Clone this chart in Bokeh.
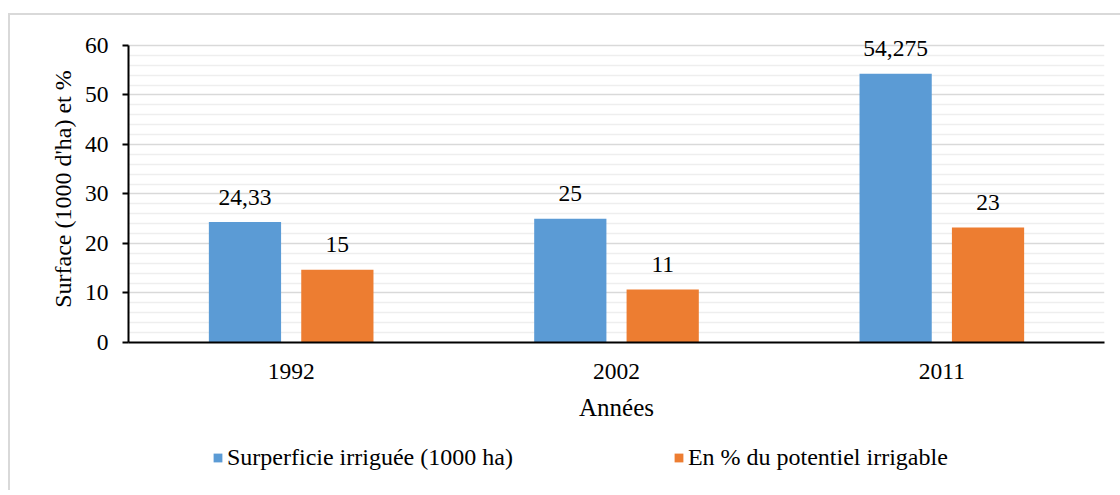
from bokeh.plotting import figure
from bokeh.models import ColumnDataSource, Legend, LegendItem, FactorRange, FixedTicker
from bokeh.layouts import column
from bokeh.transform import dodge
from bokeh.core.properties import value
from bokeh.embed import file_html
from bokeh.resources import INLINE

years = ["1992", "2002", "2011"]
surface = [24.33, 25.0, 54.275]
surface_labels = ["24,33", "25", "54,275"]
percent = [14.7, 10.7, 23.2]
percent_labels = ["15", "11", "23"]
series_names = ["Surperficie irriguée (1000 ha)", "En % du potentiel irrigable"]
y_ticks = [0, 10, 20, 30, 40, 50, 60]
y_minor = [v for v in range(0, 61, 2) if v % 10 != 0]

FONT = "'Liberation Serif', 'Times New Roman', serif"
BLUE = "#5b9bd5"
ORANGE = "#ed7d31"

src = ColumnDataSource(dict(year=years, surface=surface, surface_label=surface_labels,
                            percent=percent, percent_label=percent_labels))

p = figure(x_range=FactorRange(*years), y_range=(0, 62), width=1110, height=415,
           output_backend="svg", toolbar_location=None,
           min_border_left=118, min_border_right=16, min_border_top=20, min_border_bottom=88)
p.outline_line_color = None
p.background_fill_color = "white"
p.border_fill_color = "white"
p.x_range.range_padding = 0

ticker = FixedTicker(ticks=y_ticks, minor_ticks=y_minor)

# grid
p.xgrid.grid_line_color = None
p.ygrid.ticker = ticker
p.ygrid.grid_line_color = "#d9d9d9"
p.ygrid.grid_line_width = 1.5
p.ygrid.minor_grid_line_color = "#eeeeee"
p.ygrid.minor_grid_line_width = 1.5

w = 0.222
off = 0.142
p.vbar(x=dodge("year", -off, range=p.x_range), top="surface", width=w, source=src,
       fill_color=BLUE, line_color=None)
p.vbar(x=dodge("year", off, range=p.x_range), top="percent", width=w, source=src,
       fill_color=ORANGE, line_color=None)

p.text(x=dodge("year", -off, range=p.x_range), y="surface", text="surface_label", source=src,
       text_font=value(FONT), text_font_size="23.5px", text_color="#000000",
       text_align="center", text_baseline="alphabetic", y_offset=-25)
p.text(x=dodge("year", off, range=p.x_range), y="percent", text="percent_label", source=src,
       text_font=value(FONT), text_font_size="23.5px", text_color="#000000",
       text_align="center", text_baseline="alphabetic", y_offset=-25)

# axes
p.yaxis.ticker = ticker
p.yaxis.bounds = (0, 60)
p.yaxis.axis_line_color = "black"
p.yaxis.axis_line_width = 2
p.yaxis.major_tick_line_color = "black"
p.yaxis.major_tick_line_width = 2
p.yaxis.major_tick_out = 6
p.yaxis.major_tick_in = 0
p.yaxis.minor_tick_line_color = None
p.yaxis.major_label_standoff = 14
p.yaxis.major_label_text_font = FONT
p.yaxis.major_label_text_font_size = "23.5px"
p.yaxis.major_label_text_color = "#000000"
p.yaxis.axis_label = "Surface (1000 d'ha) et %"
p.yaxis.axis_label_text_font = FONT
p.yaxis.axis_label_text_font_size = "24px"
p.yaxis.axis_label_text_font_style = "normal"
p.yaxis.axis_label_text_color = "#000000"
p.yaxis.axis_label_standoff = 6

p.xaxis.axis_line_color = "black"
p.xaxis.axis_line_width = 2
p.xaxis.major_tick_line_color = None
p.xaxis.minor_tick_line_color = None
p.xaxis.major_label_standoff = 15
p.xaxis.major_label_text_font = FONT
p.xaxis.major_label_text_font_size = "23.5px"
p.xaxis.major_label_text_color = "#000000"
p.xaxis.axis_label = "Années"
p.xaxis.axis_label_text_font = FONT
p.xaxis.axis_label_text_font_size = "25px"
p.xaxis.axis_label_text_font_style = "normal"
p.xaxis.axis_label_text_color = "#000000"
p.xaxis.axis_label_standoff = 12

# legend strip
p2 = figure(width=1110, height=60, x_range=(0, 1), y_range=(0, 1),
            output_backend="svg", toolbar_location=None,
            x_axis_type=None, y_axis_type=None,
            min_border_left=0, min_border_right=0, min_border_top=0, min_border_bottom=0)
p2.outline_line_color = None
p2.grid.visible = False
p2.border_fill_color = "white"
d1 = p2.vbar(x=[-5], top=[-5], width=1, fill_color=BLUE, line_color=None)
d2 = p2.vbar(x=[-5], top=[-5], width=1, fill_color=ORANGE, line_color=None)
legend = Legend(items=[LegendItem(label=series_names[0], renderers=[d1]),
                       LegendItem(label=series_names[1], renderers=[d2])],
                location=(84, 19), orientation="horizontal",
                glyph_width=11, glyph_height=11, label_standoff=4, spacing=160,
                padding=0, margin=0, border_line_color=None, background_fill_alpha=0,
                label_text_font=FONT, label_text_font_size="24px",
                label_text_color="#000000")
p2.add_layout(legend, "center")

layout = column(p, p2, spacing=0)
layout.styles = {"border-top": "2px solid #d9d9d9", "border-left": "2px solid #d9d9d9",
                 "margin-top": "13px", "margin-left": "8px"}

open("out.html", "w").write(file_html(layout, INLINE))
